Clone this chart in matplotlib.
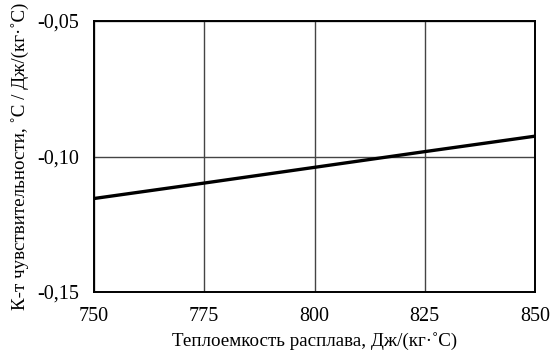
import matplotlib
matplotlib.use("Agg")
import matplotlib.pyplot as plt
from matplotlib.ticker import FuncFormatter

heat_capacity = [750, 775, 800, 825, 850]
sensitivity = [-0.1155, -0.1098, -0.1040, -0.0982, -0.0925]
x_ticks = [750, 775, 800, 825, 850]
y_ticks = [-0.15, -0.10, -0.05]

plt.rcParams["font.family"] = ["Liberation Serif", "DejaVu Serif"]

fig = plt.figure(figsize=(5.52, 3.52), dpi=100)
ax = fig.add_axes([94 / 552, 1 - 292 / 352, (535 - 94) / 552, (292 - 21) / 352])

ax.plot(heat_capacity, sensitivity, color="black", lw=2.4, solid_capstyle="butt")

ax.set_xlim(750, 850)
ax.set_ylim(-0.15, -0.05)
ax.set_xticks(x_ticks)
ax.set_yticks(y_ticks)
ax.yaxis.set_major_formatter(FuncFormatter(lambda v, p: f"{v:.2f}".replace(".", ",")))
ax.tick_params(length=0, labelsize=14.5, pad=11)
ax.grid(True, color="#444444", lw=1.0)
for s in ax.spines.values():
    s.set_color("black")
    s.set_linewidth(1.4)

ax.set_xlabel("Теплоемкость расплава, Дж/(кг·˚С)", fontsize=13.7, labelpad=4)
ax.set_ylabel("К-т чувствительности, ˚С / Дж/(кг·˚С)", fontsize=13.7, labelpad=6)

fig.savefig("out.png", dpi=100)
